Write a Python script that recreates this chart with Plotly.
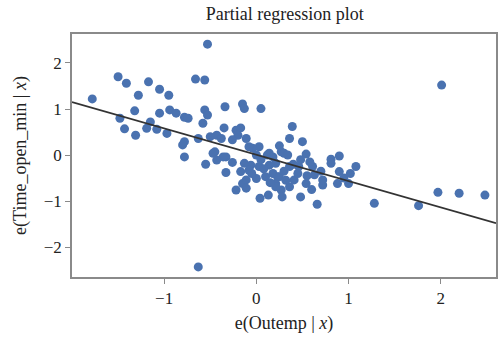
import plotly.graph_objects as go

# Residual data
x_resid = [-1.78, -1.50, -1.41, -1.17, -1.05, -1.28, -0.95, -0.66, -0.56, -0.53,
           -1.32, -1.48, -1.43, -1.31, -1.19, -1.15, -1.05, -0.94, -0.87, -0.78,
           -0.74, -0.97, -1.08, -0.78, -0.80, -0.78, -0.63, -0.58, -0.56, -0.53,
           -0.34, -0.15, -0.13, 0.05, -0.35, -0.43, -0.38, -0.22, -0.17, -0.11,
           -0.20, 0.03, -0.04, -0.45, -0.33, 0.14, 0.27, 2.01, 0.39, 0.36,
           0.50, 0.30, 0.54, 0.90, 0.81, -0.63, -0.55, -0.47, -0.36, -0.33,
           -0.26, -0.22, -0.15, -0.17, -0.06, 0.04, 0.13, 0.00, 0.14, 0.23,
           0.27, 0.10, 0.81, 1.08, 1.02, 0.90, 0.88, 1.00, 0.72, 0.66,
           0.48, 0.28, 1.28, 1.76, 1.97, 2.20, 2.48, -0.26, -0.08, 0.12,
           -0.43, -0.13, -0.08, 0.03, -0.11, 0.00, 0.18, -0.11, 0.21, 0.21,
           0.36, 0.46, 0.25, 0.41, 0.54, 0.63, 0.72, 0.61, 0.21, 0.36,
           0.18, 0.34, 0.30, 0.45, 0.55, 0.05, -0.05, 0.15, 0.32, 0.60,
           0.48, 0.70, 0.95, 0.40, 0.25, -0.50, 0.08, 0.58]
y_resid = [1.22, 1.70, 1.56, 1.59, 1.43, 1.30, 1.30, 1.65, 1.63, 2.41,
           0.96, 0.80, 0.57, 0.43, 0.58, 0.72, 0.91, 0.98, 0.91, 0.82,
           0.80, 0.47, 0.56, 0.29, 0.22, -0.04, 0.36, 0.69, 0.98, 0.87,
           1.05, 1.11, 1.01, 1.01, 0.59, 0.43, 0.36, 0.54, 0.59, 0.36,
           0.43, 0.18, 0.15, 0.07, -0.04, 0.04, 0.07, 1.52, 0.62, 0.36,
           0.29, 0.04, 0.02, -0.02, -0.09, -2.43, -0.20, 0.04, -0.04, -0.38,
           -0.16, -0.76, -0.62, -0.36, -0.22, -0.94, -0.87, 0.00, -0.22, -0.47,
           -0.76, -0.47, -0.18, -0.25, -0.40, -0.36, -0.62, -0.62, -0.65, -1.07,
           -0.91, -0.91, -1.05, -1.10, -0.81, -0.83, -0.87, 0.33, 0.18, 0.00,
           -0.11, -0.18, -0.33, -0.25, -0.54, -0.51, -0.40, -0.72, -0.62, -0.18,
           -0.25, -0.25, -0.47, -0.54, -0.62, -0.43, -0.54, -0.25, -0.69, -0.69,
           -0.04, 0.00, -0.35, -0.40, -0.45, -0.10, -0.40, -0.60, -0.55, -0.75,
           -0.10, -0.35, -0.50, -0.20, 0.20, 0.40, -0.30, -0.15]

# Fitted line parameters
fit_slope = -0.572
fit_intercept = 0.006
line_x = [-2.0, 2.6]
line_y = [fit_intercept + fit_slope * v for v in line_x]

x_ticks = [-1, 0, 1, 2]
y_ticks = [-2, -1, 0, 1, 2]

fig = go.Figure()
fig.add_trace(go.Scatter(x=x_resid, y=y_resid, mode="markers",
                         marker=dict(color="#4a72b0", size=9, line=dict(width=0)),
                         showlegend=False))
fig.add_trace(go.Scatter(x=line_x, y=line_y, mode="lines",
                         line=dict(color="#333333", width=1.7),
                         showlegend=False))

serif = "Liberation Serif, Times New Roman, serif"
fig.update_layout(
    width=498, height=338,
    margin=dict(l=72, r=0, t=34, b=61),
    paper_bgcolor="white", plot_bgcolor="white",
    font=dict(family=serif, size=17, color="#222"),
    title=dict(text="Partial regression plot", x=0.572, xanchor="center",
               y=0.958, yanchor="middle", font=dict(family=serif, size=18, color="#222")),
    xaxis=dict(range=[-2.0, 2.6], tickvals=x_ticks, showgrid=False, zeroline=False,
               showline=True, linecolor="#8a8a8a", linewidth=1.5, mirror=True,
               ticks="outside", ticklen=5, tickcolor="#8a8a8a",
               tickfont=dict(family=serif, size=17, color="#222"),
               title=dict(text="e(Outemp | <i>x</i>)", standoff=9,
                          font=dict(family=serif, size=18, color="#222"))),
    yaxis=dict(range=[-2.65, 2.63], tickvals=y_ticks, showgrid=False, zeroline=False,
               showline=True, linecolor="#8a8a8a", linewidth=1.5, mirror=True,
               ticks="outside", ticklen=5, tickcolor="#8a8a8a",
               tickfont=dict(family=serif, size=17, color="#222"),
               title=dict(text="e(Time_open_min | <i>x</i>)", standoff=12,
                          font=dict(family=serif, size=18, color="#222"))),
)

fig.write_html("out.html", config={"displayModeBar": False},
               post_script="document.body.style.margin='0';")
